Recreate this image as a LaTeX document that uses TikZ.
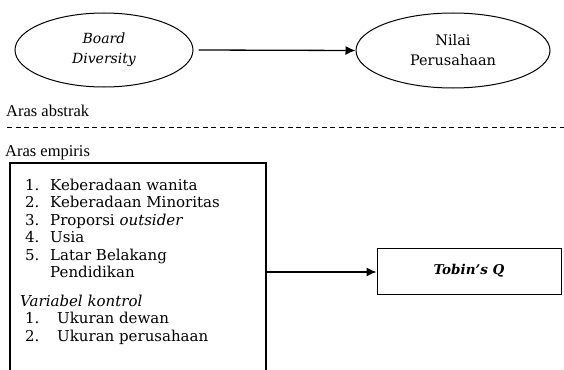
\documentclass[tikz,border=0pt]{standalone}
\usepackage{fontspec}
\setmainfont{DejaVu Serif}
\newfontfamily\arasfont{Liberation Serif}
\usetikzlibrary{arrows.meta,shapes.geometric}
\tikzset{
  ell/.style={draw, line width=1pt, ellipse, inner sep=0pt, align=center},
  arr/.style={draw, line width=1.3pt, -{Latex[length=10pt,width=9pt]}},
  lab/.style={anchor=base west, inner sep=0pt, font=\arasfont\fontsize{16.5}{18}\selectfont},
  itm/.style={anchor=base west, inner sep=0pt, font=\fontsize{15}{17}\selectfont},
  boxline/.style={draw, line width=1.1pt},
}
\begin{document}
\begin{tikzpicture}[x=1pt,y=-1pt]
\useasboundingbox (0,0) rectangle (564,369);
% ellipses
\node[ell, minimum width=178pt, minimum height=74pt, font=\itshape\fontsize{14}{20}\selectfont] (bd) at (104,50) {Board\\Diversity};
\node[ell, minimum width=194pt, minimum height=75pt, font=\fontsize{14.5}{20}\selectfont] (nilai) at (453,50.5) {Nilai\\Perusahaan};
\draw[arr] ([xshift=5pt]bd.east) -- (nilai.west);
% levels
\node[lab] (abs) at (6,116) {Aras abstrak};
\coordinate (dl) at (7,127.5);
\coordinate (dr) at (564,127.5);
\draw[line width=0.8pt, dash pattern=on 5pt off 3.5pt] (dl) -- (dr);
\node[lab] (emp) at (5,156) {Aras empiris};
% box
\coordinate (bl) at (10,370);
\coordinate (tl) at (10,163);
\coordinate (tr) at (266,163);
\coordinate (br) at (266,370);
\draw[boxline] (bl) -- (tl) -- (tr) -- (br);
\node[itm] (n1) at (25,190) {1.};
\node[itm] (t1) at (50,190) {Keberadaan wanita};
\node[itm] (n2) at (25,207.5) {2.};
\node[itm] (t2) at (50,207.5) {Keberadaan Minoritas};
\node[itm] (n3) at (25,225) {3.};
\node[itm] (t3) at (50,225) {Proporsi \textit{outsider}};
\node[itm] (n4) at (25,242.5) {4.};
\node[itm] (t4) at (50,242.5) {Usia};
\node[itm] (n5) at (25,260) {5.};
\node[itm] (t5) at (50,260) {Latar Belakang};
\node[itm] (t5b) at (50,277.5) {Pendidikan};
\node[itm, font=\itshape\fontsize{15}{17}\selectfont] (vk) at (20,306) {Variabel kontrol};
\node[itm] (m1) at (25,323.5) {1.};
\node[itm] (u1) at (57,323.5) {Ukuran dewan};
\node[itm] (m2) at (25,341) {2.};
\node[itm] (u2) at (57,341) {Ukuran perusahaan};
% Tobin
\node[draw, line width=1pt, minimum width=184pt, minimum height=46pt, inner sep=0pt, font=\bfseries\itshape\fontsize{13.5}{16}\selectfont] (tq) at (469,271) {Tobin's Q};
\coordinate (boxR) at (266,272);
\draw[arr] (boxR) -- (tq.west |- boxR);
\end{tikzpicture}
\end{document}
